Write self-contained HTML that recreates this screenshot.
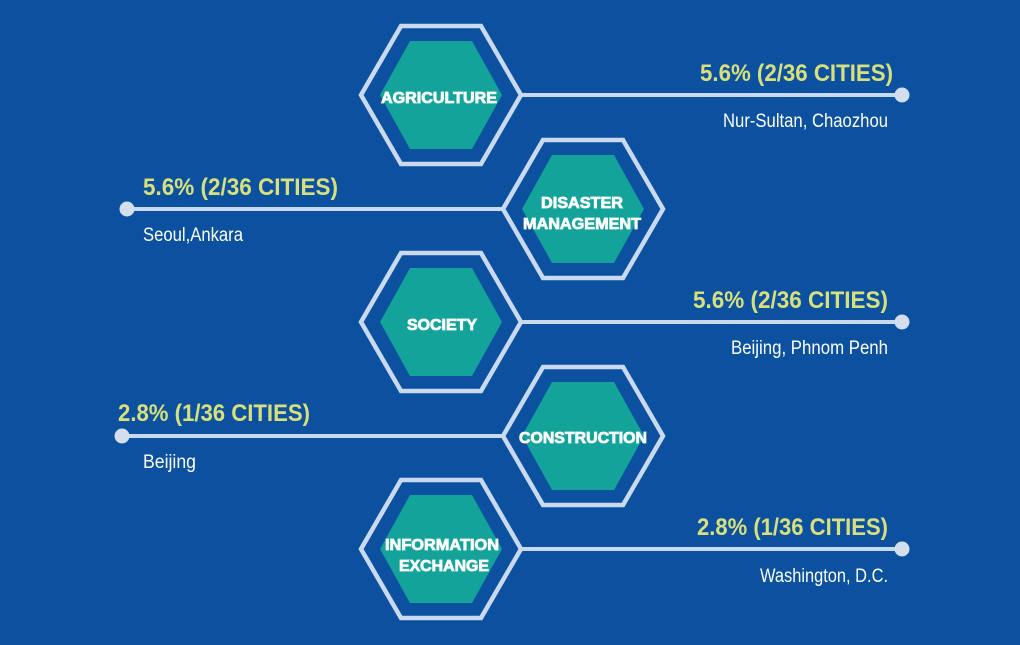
<!DOCTYPE html>
<html><head><meta charset="utf-8"><style>
html,body{margin:0;padding:0;background:#0b519f;}
svg{display:block}
.p{font-family:"Liberation Sans Narrow","Liberation Sans",sans-serif;font-weight:bold;font-size:24px;fill:#d7e07c}
.c{font-family:"Liberation Sans Narrow","Liberation Sans",sans-serif;font-size:19px;fill:#fff}
.h{font-family:"Liberation Sans",sans-serif;font-weight:900;font-size:16px;fill:#fff;stroke:#fff;stroke-width:0.8}
</style></head><body>
<svg width="1020" height="645" viewBox="0 0 1020 645">
<rect width="1020" height="645" fill="#0b519f"/>
<defs>
<g id="hx">
<polygon points="-80,0 -40,-69 40,-69 80,0 40,69 -40,69" fill="none" stroke="#c9d9ef" stroke-width="4.5"/>
<polygon points="-61,0 -31,-54 31,-54 61,0 31,54 -31,54" fill="#14a39b"/>
</g>
</defs>
<g stroke="#c9d9ef" stroke-width="4">
<line x1="521" y1="95" x2="902" y2="95"/>
<line x1="127" y1="209" x2="503" y2="209"/>
<line x1="521" y1="322" x2="902" y2="322"/>
<line x1="122" y1="436" x2="503" y2="436"/>
<line x1="521" y1="549" x2="902" y2="549"/>
</g>
<g fill="#d3deef">
<circle cx="902" cy="95" r="7.5"/><circle cx="127" cy="209" r="7.5"/>
<circle cx="902" cy="322" r="7.5"/><circle cx="122" cy="436" r="7.5"/>
<circle cx="902" cy="549" r="7.5"/>
</g>
<use href="#hx" x="441" y="95"/>
<use href="#hx" x="583" y="209"/>
<use href="#hx" x="441" y="322"/>
<use href="#hx" x="583" y="436"/>
<use href="#hx" x="441" y="549"/>
<text class="h" x="381" y="103" textLength="116" lengthAdjust="spacingAndGlyphs">AGRICULTURE</text>
<text class="h" x="541" y="208" textLength="82" lengthAdjust="spacingAndGlyphs">DISASTER</text>
<text class="h" x="523" y="229" textLength="118" lengthAdjust="spacingAndGlyphs">MANAGEMENT</text>
<text class="h" x="407" y="330" textLength="70" lengthAdjust="spacingAndGlyphs">SOCIETY</text>
<text class="h" x="519" y="443" textLength="128" lengthAdjust="spacingAndGlyphs">CONSTRUCTION</text>
<text class="h" x="385" y="550" textLength="114" lengthAdjust="spacingAndGlyphs">INFORMATION</text>
<text class="h" x="399" y="571" textLength="90" lengthAdjust="spacingAndGlyphs">EXCHANGE</text>
<text class="p" x="700" y="81" textLength="193" lengthAdjust="spacingAndGlyphs">5.6% (2/36 CITIES)</text>
<text class="c" x="723" y="127" textLength="165" lengthAdjust="spacingAndGlyphs">Nur-Sultan, Chaozhou</text>
<text class="p" x="143" y="195" textLength="195" lengthAdjust="spacingAndGlyphs">5.6% (2/36 CITIES)</text>
<text class="c" x="143" y="241" textLength="100" lengthAdjust="spacingAndGlyphs">Seoul,Ankara</text>
<text class="p" x="693" y="308" textLength="195" lengthAdjust="spacingAndGlyphs">5.6% (2/36 CITIES)</text>
<text class="c" x="731" y="354" textLength="157" lengthAdjust="spacingAndGlyphs">Beijing, Phnom Penh</text>
<text class="p" x="118" y="421" textLength="192" lengthAdjust="spacingAndGlyphs">2.8% (1/36 CITIES)</text>
<text class="c" x="143" y="468" textLength="53" lengthAdjust="spacingAndGlyphs">Beijing</text>
<text class="p" x="697" y="535" textLength="191" lengthAdjust="spacingAndGlyphs">2.8% (1/36 CITIES)</text>
<text class="c" x="760" y="582" textLength="128" lengthAdjust="spacingAndGlyphs">Washington, D.C.</text>
</svg>
</body></html>
